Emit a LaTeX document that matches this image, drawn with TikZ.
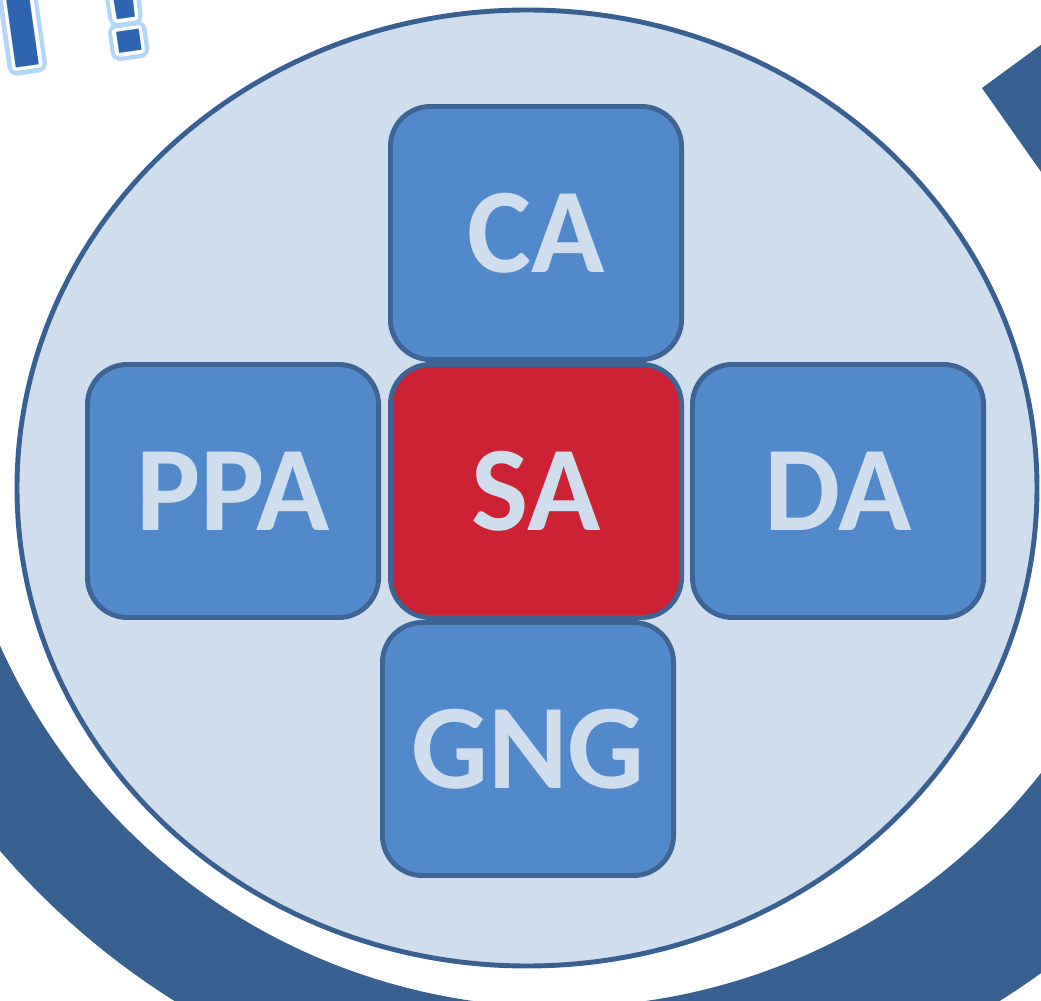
\documentclass[tikz,border=0pt]{standalone}
\usepackage{fontspec}
\setmainfont{Carlito}
\newfontfamily\wordfont[LetterSpace=6]{Liberation Sans}
\usetikzlibrary{positioning}

\definecolor{ringblue}{RGB}{56,96,144}
\definecolor{discfill}{RGB}{208,221,236}
\definecolor{discline}{RGB}{58,95,145}
\definecolor{boxfill}{RGB}{82,137,203}
\definecolor{boxline}{RGB}{62,100,150}
\definecolor{boxred}{RGB}{204,34,51}
\definecolor{wordblue}{RGB}{46,100,178}
\definecolor{wordglow}{RGB}{178,214,250}

\begin{document}
\begin{tikzpicture}[x=0.025cm, y=0.025cm,
    cell/.style={draw=boxline, line width=3.5pt, fill=boxfill,
        rounded corners=1cm, minimum width=7.275cm, minimum height=6.325cm,
        inner sep=0pt, text=discfill, font=\fontsize{86}{90}\selectfont\bfseries},
    hot/.style={cell, fill=boxred},
    word/.style={anchor=base east, rotate=8, inner sep=0pt,
        font=\wordfont\fontsize{115}{115}\selectfont\bfseries}]

    % ---- Frame ----
    \useasboundingbox (0,0) rectangle (1041,1001);
    \clip (0,0) rectangle (1041,1001);

    % ---- Parameters ----
    \def\Cx{527}      % disc centre x
    \def\Cy{513}      % disc centre y
    \def\Rx{510}      % disc x radius
    \def\Ry{478}      % disc y radius

    % ---- Big ring (behind the disc) ----
    \fill[ringblue] ([shift={(165:613)}]559,607)
        arc[start angle=165, end angle=380, radius=613]
        -- ([shift={(380:774)}]587,655)
        arc[start angle=380, end angle=165, radius=774] -- cycle;

    % ---- Ring piece, top right ----
    \fill[ringblue] (982,913) -- (1120,1014) -- (1120,717) -- cycle;

    % ---- Disc ----
    \draw[discline, fill=discfill, line width=3.5pt]
        (\Cx,\Cy) ellipse [x radius=\Rx, y radius=\Ry];

    % ---- Boxes ----
    \node[hot] (sa) at (536,510) {SA};
    \node[cell, above=0pt of sa] (ca) {CA};
    \node[cell, left=0.175cm of sa] (ppa) {PPA};
    \node[cell, right=0.15cm of sa] (da) {DA};
    \node[cell, below=0pt of sa, xshift=-0.2cm] (gng) {GNG};

    % ---- Title text, top left (glow, rim, fill) ----
    \foreach \a in {0,15,...,345}
        \node[word, text=wordglow] at ([shift={(\a:8)}]158,953) {AI !};
    \foreach \a in {0,15,...,345}
        \node[word, text=white] at ([shift={(\a:3.5)}]158,953) {AI !};
    \node[word, text=wordblue] (slogan) at (158,953) {AI !};

\end{tikzpicture}
\end{document}
